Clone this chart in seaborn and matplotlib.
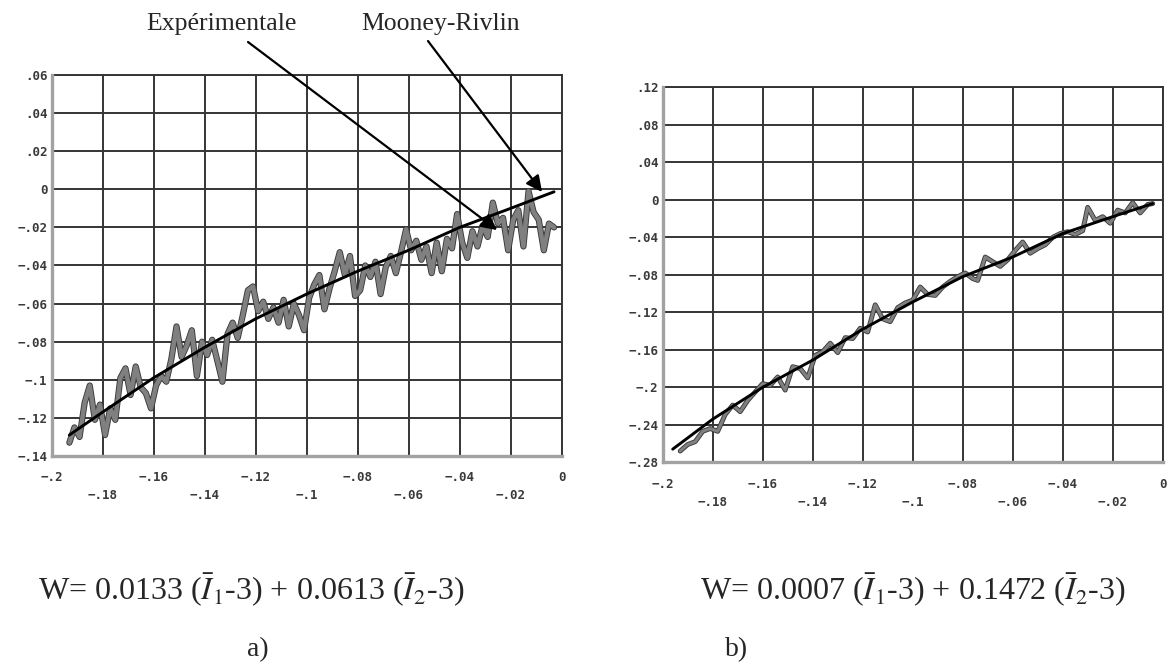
import matplotlib
matplotlib.use("Agg")
import matplotlib.pyplot as plt
import matplotlib.patheffects as pe
import pandas as pd
import seaborn as sns

# ---------------- panel a) ----------------
mr_a_x = [-0.193, -0.18, -0.16, -0.14, -0.12, -0.10, -0.08, -0.06, -0.04, -0.02, -0.003]
mr_a_y = [-0.129, -0.117, -0.099, -0.083, -0.068, -0.055, -0.043, -0.032, -0.020, -0.010, -0.0013]

exp_a_x = [
    -0.193, -0.191, -0.189, -0.187, -0.185, -0.183, -0.181, -0.179, -0.177, -0.175,
    -0.173, -0.171, -0.169, -0.167, -0.165, -0.163, -0.161, -0.159, -0.157, -0.155,
    -0.153, -0.151, -0.149, -0.147, -0.145, -0.143, -0.141, -0.139, -0.137, -0.135,
    -0.133, -0.131, -0.129, -0.127, -0.125, -0.123, -0.121, -0.119, -0.117, -0.115,
    -0.113, -0.111, -0.109, -0.107, -0.105, -0.103, -0.101, -0.099, -0.097, -0.095,
    -0.093, -0.091, -0.089, -0.087, -0.085, -0.083, -0.081, -0.079, -0.077, -0.075,
    -0.073, -0.071, -0.069, -0.067, -0.065, -0.063, -0.061, -0.059, -0.057, -0.055,
    -0.053, -0.051, -0.049, -0.047, -0.045, -0.043, -0.041, -0.039, -0.037, -0.035,
    -0.033, -0.031, -0.029, -0.027, -0.025, -0.023, -0.021, -0.019, -0.017, -0.015,
    -0.013, -0.011, -0.009, -0.007, -0.005, -0.003,
]
exp_a_y = [
    -0.133, -0.125, -0.130, -0.112, -0.103, -0.121, -0.113, -0.129, -0.115, -0.121,
    -0.099, -0.094, -0.108, -0.093, -0.104, -0.107, -0.115, -0.103, -0.098, -0.101,
    -0.089, -0.072, -0.088, -0.082, -0.074, -0.098, -0.080, -0.087, -0.079, -0.090,
    -0.101, -0.076, -0.070, -0.078, -0.066, -0.053, -0.051, -0.064, -0.059, -0.068,
    -0.062, -0.070, -0.058, -0.072, -0.060, -0.066, -0.074, -0.057, -0.050, -0.045,
    -0.063, -0.052, -0.043, -0.033, -0.045, -0.035, -0.056, -0.053, -0.040, -0.046,
    -0.038, -0.055, -0.041, -0.035, -0.044, -0.033, -0.021, -0.032, -0.027, -0.037,
    -0.030, -0.044, -0.028, -0.043, -0.026, -0.031, -0.013, -0.028, -0.036, -0.022,
    -0.030, -0.019, -0.025, -0.007, -0.018, -0.015, -0.032, -0.016, -0.011, -0.030,
    -0.001, -0.012, -0.016, -0.032, -0.018, -0.020,
]

yticks_a = [0.06, 0.04, 0.02, 0.0, -0.02, -0.04, -0.06, -0.08, -0.10, -0.12, -0.14]
ytick_labels_a = [".06", ".04", ".02", "0", "−.02", "−.04", "−.06", "−.08", "−.1", "−.12", "−.14"]

# ---------------- panel b) ----------------
mr_b_x = [-0.196, -0.18, -0.16, -0.14, -0.12, -0.10, -0.08, -0.06, -0.04, -0.02, -0.004]
mr_b_y = [-0.266, -0.234, -0.200, -0.171, -0.138, -0.109, -0.082, -0.061, -0.036, -0.018, -0.004]

exp_b_x = [
    -0.193, -0.190, -0.187, -0.184, -0.181, -0.178, -0.175, -0.172, -0.169, -0.166,
    -0.163, -0.160, -0.157, -0.154, -0.151, -0.148, -0.145, -0.142, -0.139, -0.136,
    -0.133, -0.130, -0.127, -0.124, -0.121, -0.118, -0.115, -0.112, -0.109, -0.106,
    -0.103, -0.100, -0.097, -0.094, -0.091, -0.088, -0.085, -0.082, -0.079, -0.076,
    -0.074, -0.071, -0.068, -0.065, -0.062, -0.059, -0.056, -0.053, -0.050, -0.047,
    -0.044, -0.041, -0.038, -0.035, -0.032, -0.030, -0.027, -0.024, -0.021, -0.018,
    -0.015, -0.012, -0.009, -0.006, -0.004,
]
exp_b_y = [
    -0.268, -0.261, -0.258, -0.247, -0.244, -0.247, -0.229, -0.219, -0.226, -0.214,
    -0.205, -0.196, -0.198, -0.189, -0.203, -0.178, -0.180, -0.190, -0.166, -0.162,
    -0.153, -0.163, -0.147, -0.148, -0.137, -0.141, -0.112, -0.127, -0.130, -0.115,
    -0.110, -0.107, -0.093, -0.101, -0.102, -0.093, -0.087, -0.082, -0.078, -0.084,
    -0.086, -0.061, -0.066, -0.071, -0.064, -0.054, -0.045, -0.057, -0.052, -0.048,
    -0.040, -0.036, -0.034, -0.037, -0.033, -0.008, -0.022, -0.018, -0.025, -0.011,
    -0.014, -0.003, -0.014, -0.005, -0.004,
]

yticks_b = [0.12, 0.08, 0.04, 0.0, -0.04, -0.08, -0.12, -0.16, -0.20, -0.24, -0.28]
ytick_labels_b = [".12", ".08", ".04", "0", "−.04", "−.08", "−.12", "−.16", "−.2", "−.24", "−.28"]

# shared x axis
xticks = [-0.20, -0.18, -0.16, -0.14, -0.12, -0.10, -0.08, -0.06, -0.04, -0.02, 0.0]
xtick_labels = ["−.2", "−.18", "−.16", "−.14", "−.12", "−.1", "−.08", "−.06", "−.04", "−.02", "0"]

series_names = ["Expérimentale", "Mooney-Rivlin"]
equation_a = r"W= 0.0133 ($\bar{I}_1$-3) + 0.0613 ($\bar{I}_2$-3)"
equation_b = r"W= 0.0007 ($\bar{I}_1$-3) + 0.1472 ($\bar{I}_2$-3)"

# ---------------- drawing ----------------
sns.set_theme(style="white")
plt.rcParams["font.family"] = ["Liberation Serif", "DejaVu Serif"]
plt.rcParams["mathtext.fontset"] = "stix"

W, H = 1172, 666
fig = plt.figure(figsize=(W / 100, H / 100), dpi=100)
fig.patch.set_facecolor("white")

ax_a = fig.add_axes([51.5 / W, 1 - 456 / H, 510.2 / W, 381 / H])
ax_b = fig.add_axes([662.7 / W, 1 - 462.3 / H, 500 / W, 375 / H])

GRID = "#353535"
SPINE = "#a2a2a2"


def draw_panel(ax, ex, ey, mx, my, width):
    exp_df = pd.DataFrame({"x": ex, "y": ey})
    fit_df = pd.DataFrame({"x": mx, "y": my})
    outline = [pe.Stroke(linewidth=width + 1.3, foreground="#3a3a3a"), pe.Normal()]
    sns.lineplot(data=exp_df, x="x", y="y", ax=ax, sort=False, estimator=None,
                 color="#808080", lw=width, path_effects=outline, zorder=3)
    sns.lineplot(data=fit_df, x="x", y="y", ax=ax, sort=False, estimator=None,
                 color="black", lw=2.1, zorder=4)


def style_panel(ax, ylim, yt, ytl):
    ax.set_xlim(-0.2, 0.0)
    ax.set_ylim(*ylim)
    ax.set_xticks(xticks)
    ax.set_xticklabels(xtick_labels)
    ax.set_yticks(yt)
    ax.set_yticklabels(ytl)
    ax.set_xlabel("")
    ax.set_ylabel("")
    ax.grid(True, color=GRID, lw=1.4)
    ax.set_axisbelow(True)
    for s in ("top", "right"):
        ax.spines[s].set_color(GRID)
        ax.spines[s].set_linewidth(1.4)
    for s in ("left", "bottom"):
        ax.spines[s].set_color(SPINE)
        ax.spines[s].set_linewidth(2.4)
        ax.spines[s].set_zorder(5)
    ax.tick_params(axis="x", direction="out", length=5, width=1.4, color=GRID,
                   labelsize=9, labelcolor="#3a3a3a", labelfontfamily="DejaVu Sans Mono")
    ax.tick_params(axis="y", direction="out", length=2, width=1.4, color=GRID, pad=1,
                   labelsize=9, labelcolor="#3a3a3a", labelfontfamily="DejaVu Sans Mono")
    for lab in ax.get_xticklabels() + ax.get_yticklabels():
        lab.set_fontweight("bold")
    for i, t in enumerate(ax.xaxis.get_major_ticks()):
        t.set_pad(6 if i % 2 == 0 else 19)


draw_panel(ax_a, exp_a_x, exp_a_y, mr_a_x, mr_a_y, 3.2)
draw_panel(ax_b, exp_b_x, exp_b_y, mr_b_x, mr_b_y, 2.2)
style_panel(ax_a, (-0.14, 0.06), yticks_a, ytick_labels_a)
style_panel(ax_b, (-0.28, 0.12), yticks_b, ytick_labels_b)

# series labels with arrows pointing at the curves of panel a)
arrow = dict(arrowstyle="-|>", lw=1.6, color="black", mutation_scale=24,
             shrinkA=0, shrinkB=0)
ax_a.annotate("", xy=(-0.0253, -0.0214), xycoords="data",
              xytext=(248, H - 42), textcoords="figure pixels", arrowprops=arrow)
ax_a.annotate("", xy=(-0.0077, -0.0014), xycoords="data",
              xytext=(428, H - 41), textcoords="figure pixels", arrowprops=arrow)
fig.text(221 / W, 1 - 24 / H, series_names[0], ha="center", va="center", fontsize=18.5)
fig.text(441 / W, 1 - 24 / H, series_names[1], ha="center", va="center", fontsize=18.5)

# equations and panel letters
fig.text(38 / W, 1 - 590 / H, equation_a, ha="left", va="center", fontsize=23)
fig.text(700 / W, 1 - 590 / H, equation_b, ha="left", va="center", fontsize=23)
fig.text(258 / W, 1 - 650 / H, "a)", ha="center", va="center", fontsize=20)
fig.text(737 / W, 1 - 650 / H, "b)", ha="center", va="center", fontsize=20)

fig.savefig("out.png", dpi=100, facecolor="white")
